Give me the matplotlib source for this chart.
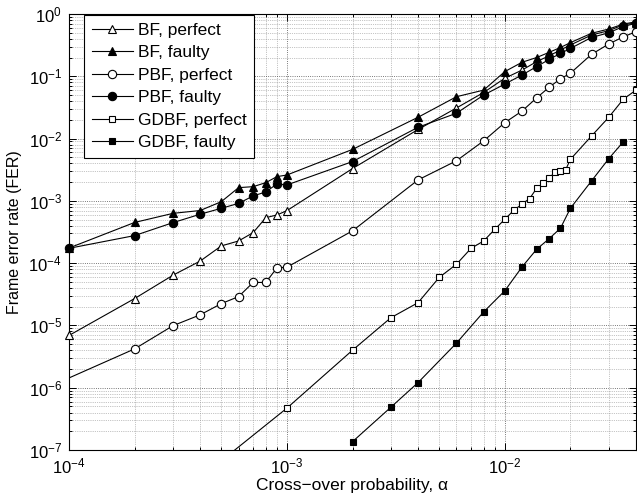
import numpy as np
import matplotlib
matplotlib.use("Agg")
import matplotlib.pyplot as plt
from matplotlib.lines import Line2D
from matplotlib.ticker import LogLocator, LogFormatterMathtext, NullFormatter

plt.rcParams['font.family'] = ['Liberation Sans', 'DejaVu Sans']
plt.rcParams['mathtext.fontset'] = 'custom'
plt.rcParams['mathtext.rm'] = 'Liberation Sans'
plt.rcParams['mathtext.it'] = 'Liberation Sans:italic'
plt.rcParams['mathtext.default'] = 'regular'

# Probabilidades de cruce (eje x)
alpha_bf = [1e-4, 2e-4, 3e-4, 4e-4, 5e-4, 6e-4, 7e-4, 8e-4, 9e-4, 1e-3,
            2e-3, 4e-3, 6e-3, 8e-3,
            1e-2, 1.2e-2, 1.4e-2, 1.6e-2, 1.8e-2, 2e-2, 2.5e-2, 3e-2, 3.5e-2, 4e-2]
alpha_pbf_perf = [5e-5, 2e-4, 3e-4, 4e-4, 5e-4, 6e-4, 7e-4, 8e-4, 9e-4, 1e-3,
                  2e-3, 4e-3, 6e-3, 8e-3,
                  1e-2, 1.2e-2, 1.4e-2, 1.6e-2, 1.8e-2, 2e-2, 2.5e-2, 3e-2, 3.5e-2, 4e-2]
alpha_gdbf_perf = [5e-4, 1e-3, 2e-3, 3e-3, 4e-3, 5e-3, 6e-3, 7e-3, 8e-3, 9e-3,
                   1e-2, 1.1e-2, 1.2e-2, 1.3e-2, 1.4e-2, 1.5e-2, 1.6e-2, 1.7e-2,
                   1.8e-2, 1.9e-2, 2e-2, 2.5e-2, 3e-2, 3.5e-2, 4e-2]
alpha_gdbf_falla = [2e-3, 3e-3, 4e-3, 6e-3, 8e-3, 1e-2, 1.2e-2, 1.4e-2,
                    1.6e-2, 1.8e-2, 2e-2, 2.5e-2, 3e-2, 3.5e-2]

# FER de cada decodificador
fer_bf_perf = [6.9e-6, 2.7e-5, 6.4e-5, 1.08e-4, 1.89e-4, 2.27e-4, 3.09e-4, 5.37e-4, 5.94e-4, 6.96e-4,
               3.3e-3, 1.4e-2, 3.1e-2, 5.5e-2,
               0.093, 0.126, 0.172, 0.214, 0.264, 0.318, 0.46, 0.54, 0.67, 0.72]
fer_bf_falla = [1.75e-4, 4.5e-4, 6.3e-4, 7.0e-4, 9.7e-4, 1.63e-3, 1.69e-3, 1.96e-3, 2.45e-3, 2.6e-3,
                6.7e-3, 2.2e-2, 4.7e-2, 6.0e-2,
                0.119, 0.168, 0.2, 0.243, 0.29, 0.347, 0.49, 0.574, 0.69, 0.75]
fer_pbf_perf = [4.9e-7, 4.2e-6, 9.9e-6, 1.48e-5, 2.24e-5, 2.9e-5, 4.9e-5, 4.9e-5, 8.4e-5, 8.6e-5,
                3.3e-4, 2.17e-3, 4.4e-3, 9.2e-3,
                1.8e-2, 2.77e-2, 4.5e-2, 6.7e-2, 9.1e-2, 0.112, 0.225, 0.33, 0.43, 0.52]
fer_pbf_falla = [1.73e-4, 2.77e-4, 4.47e-4, 6.1e-4, 7.6e-4, 9.1e-4, 1.2e-3, 1.39e-3, 1.87e-3, 1.8e-3,
                 4.27e-3, 1.52e-2, 2.55e-2, 5.0e-2,
                 0.075, 0.105, 0.143, 0.187, 0.233, 0.28, 0.42, 0.5, 0.63, 0.71]
fer_gdbf_perf = [6.7e-8, 4.7e-7, 4.0e-6, 1.33e-5, 2.32e-5, 5.9e-5, 9.6e-5, 1.73e-4, 2.27e-4, 3.5e-4,
                 5.06e-4, 7.06e-4, 8.9e-4, 1.09e-3, 1.59e-3, 1.91e-3, 2.3e-3, 2.94e-3,
                 3.06e-3, 3.13e-3, 4.64e-3, 1.1e-2, 2.2e-2, 4.3e-2, 6.0e-2]
fer_gdbf_falla = [1.36e-7, 4.86e-7, 1.21e-6, 5.2e-6, 1.65e-5, 3.6e-5, 8.7e-5, 1.67e-4,
                  2.48e-4, 3.63e-4, 7.6e-4, 2.09e-3, 4.76e-3, 8.9e-3]

XLIM = (1e-4, 4e-2)
YLIM = (1e-7, 1)


def dibujar():
    fig = plt.figure(figsize=(6.37, 5.01), dpi=100)
    ax = fig.add_axes([69 / 637, 1 - 450 / 501, 567 / 637, 436 / 501])

    curvas = [
        ('BF, perfect', alpha_bf, fer_bf_perf, '^', 'white', 6.0),
        ('BF, faulty', alpha_bf, fer_bf_falla, '^', 'black', 6.0),
        ('PBF, perfect', alpha_pbf_perf, fer_pbf_perf, 'o', 'white', 6.0),
        ('PBF, faulty', alpha_bf, fer_pbf_falla, 'o', 'black', 6.0),
        ('GDBF, perfect', alpha_gdbf_perf, fer_gdbf_perf, 's', 'white', 5.0),
        ('GDBF, faulty', alpha_gdbf_falla, fer_gdbf_falla, 's', 'black', 5.0),
    ]

    handles = []
    for nombre, x, y, mk, cara, ms in curvas:
        x = np.array(x)
        y = np.array(y)
        # linea recortada al area de los ejes
        ax.plot(x, y, '-', color='black', linewidth=0.8, zorder=3)
        # marcadores dentro del rango, sin recortar (estilo MATLAB)
        dentro = (x >= XLIM[0]) & (x <= XLIM[1]) & (y >= YLIM[0]) & (y <= YLIM[1])
        ax.plot(x[dentro], y[dentro], linestyle='none', marker=mk, markersize=ms,
                markerfacecolor=cara, markeredgecolor='black', markeredgewidth=0.8,
                clip_on=False, zorder=4)
        handles.append(Line2D([], [], color='black', linewidth=0.8, marker=mk,
                              markersize=ms, markerfacecolor=cara,
                              markeredgecolor='black', markeredgewidth=0.8,
                              label=nombre))

    ax.set_xscale('log')
    ax.set_yscale('log')
    ax.set_xlim(*XLIM)
    ax.set_ylim(*YLIM)

    ax.xaxis.set_major_locator(LogLocator(base=10, numticks=10))
    ax.xaxis.set_minor_locator(LogLocator(base=10, subs=np.arange(2, 10), numticks=100))
    ax.yaxis.set_major_locator(LogLocator(base=10, numticks=20))
    ax.yaxis.set_minor_locator(LogLocator(base=10, subs=np.arange(2, 10), numticks=100))
    ax.xaxis.set_major_formatter(LogFormatterMathtext())
    ax.yaxis.set_major_formatter(LogFormatterMathtext())
    ax.xaxis.set_minor_formatter(NullFormatter())
    ax.yaxis.set_minor_formatter(NullFormatter())

    ax.grid(which='major', linestyle=':', color='0.3', linewidth=0.6)
    ax.grid(which='minor', linestyle=':', color='0.55', linewidth=0.5)
    ax.set_axisbelow(True)

    ax.tick_params(which='both', direction='in', top=True, right=True,
                   labelsize=12, width=0.7, colors='black')
    ax.tick_params(which='major', length=5, pad=5)
    ax.tick_params(which='minor', length=2.5)
    for sp in ax.spines.values():
        sp.set_linewidth(0.8)

    ax.set_xlabel('Cross\u2212over probability, \u03b1', fontsize=12.5, labelpad=1)
    ax.set_ylabel('Frame error rate (FER)', fontsize=11.5, labelpad=5)

    leg = ax.legend(handles=handles, loc='upper left', bbox_to_anchor=(0.026, 0.998),
                    borderaxespad=0, fontsize=12.5, handlelength=2.4,
                    handletextpad=0.25, labelspacing=0.42, borderpad=0.45,
                    fancybox=False, framealpha=1, edgecolor='black')
    leg.get_frame().set_linewidth(0.8)
    leg.set_zorder(10)

    plt.savefig('out.png', dpi=100)


if __name__ == "__main__":
    dibujar()
